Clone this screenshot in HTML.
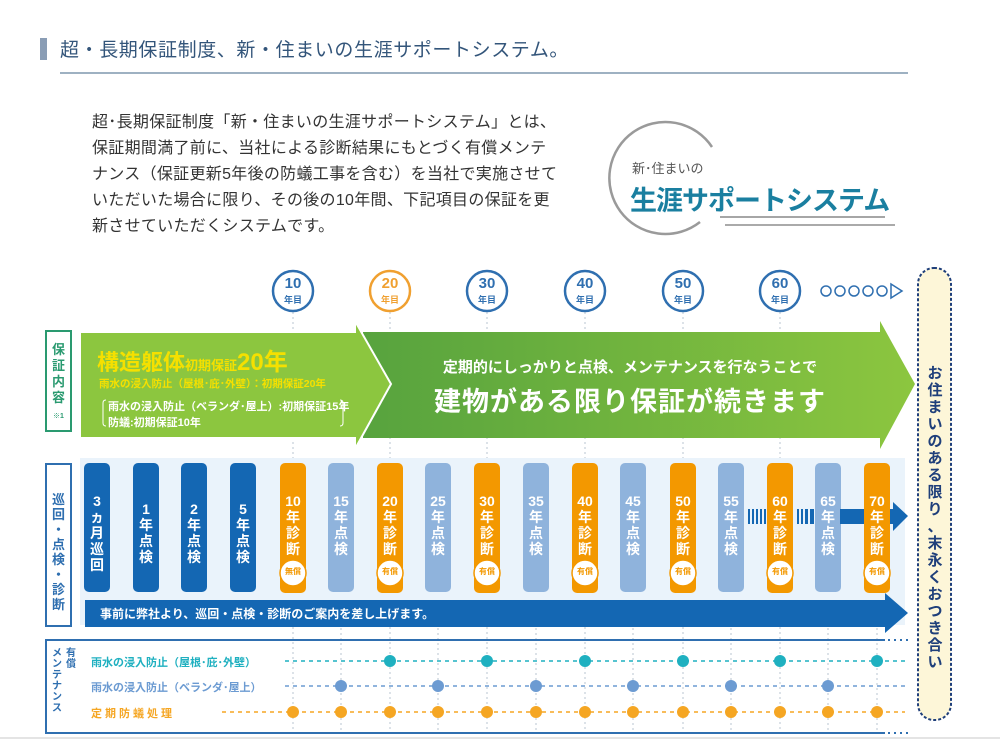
<!DOCTYPE html>
<html><head><meta charset="utf-8"><style>
body{margin:0;background:#fff;}
#c{position:relative;width:1000px;height:742px;overflow:hidden;font-family:"Liberation Sans","Noto Sans CJK JP",sans-serif;}
.a{position:absolute;}
.p{position:absolute;width:26px;text-align:center;color:#fff;font-weight:bold;font-size:14px;line-height:16px;top:493px;}
.v{position:absolute;text-align:center;font-weight:bold;}
</style></head><body><div id="c">
<svg class="a" style="left:0;top:0" width="1000" height="742">
<defs>
<linearGradient id="g2" x1="0" x2="1"><stop offset="0" stop-color="#57a33e"/><stop offset="1" stop-color="#8cc63f"/></linearGradient>
</defs>
<rect x="40" y="38" width="7" height="22" fill="#8a9db5"/>
<line x1="60" y1="73" x2="908" y2="73" stroke="#7f97ad" stroke-width="1.5"/>
<path d="M712 147 A56 56 0 1 0 700 222" fill="none" stroke="#9a9a9a" stroke-width="2.5"/>
<line x1="720" y1="217" x2="885" y2="217" stroke="#888" stroke-width="1.5"/>
<line x1="725" y1="225" x2="895" y2="225" stroke="#aaa" stroke-width="2"/>
<rect x="918" y="268" width="33" height="452" rx="16" fill="#fdf6d8" stroke="#1f3f7a" stroke-width="2" stroke-dasharray="3,2"/>
<g stroke="#b8c4d0" stroke-width="1" stroke-dasharray="2,3">
<line x1="293" y1="312" x2="293" y2="730"/><line x1="341" y1="458" x2="341" y2="730"/>
<line x1="390" y1="312" x2="390" y2="730"/><line x1="438" y1="458" x2="438" y2="730"/>
<line x1="487" y1="312" x2="487" y2="730"/><line x1="536" y1="458" x2="536" y2="730"/>
<line x1="585" y1="312" x2="585" y2="730"/><line x1="633" y1="458" x2="633" y2="730"/>
<line x1="683" y1="312" x2="683" y2="730"/><line x1="731" y1="458" x2="731" y2="730"/>
<line x1="780" y1="312" x2="780" y2="730"/><line x1="828" y1="458" x2="828" y2="730"/>
<line x1="877" y1="458" x2="877" y2="730"/>
</g>
<g fill="#fff" stroke-width="2.5">
<circle cx="293" cy="291" r="20" stroke="#2f6fb0"/>
<circle cx="390" cy="291" r="20" stroke="#f0a030"/>
<circle cx="487" cy="291" r="20" stroke="#2f6fb0"/>
<circle cx="585" cy="291" r="20" stroke="#2f6fb0"/>
<circle cx="683" cy="291" r="20" stroke="#2f6fb0"/>
<circle cx="780" cy="291" r="20" stroke="#2f6fb0"/>
</g>
<g fill="none" stroke="#2f6fb0" stroke-width="1.5">
<circle cx="826" cy="291" r="5"/><circle cx="840" cy="291" r="5"/><circle cx="854" cy="291" r="5"/><circle cx="868" cy="291" r="5"/><circle cx="882" cy="291" r="5"/>
<path d="M891 284 L902 291 L891 298 Z"/>
</g>
<rect x="46" y="331" width="25" height="100" fill="#fff" stroke="#2a9a70" stroke-width="2"/>
<path d="M363 332 H880 V321 L915 384 L880 449 V438 H363 Z" fill="url(#g2)"/>
<path d="M80 332 H355 V321 L391 384 L355 449 V438 H80 Z" fill="#8cc63f" stroke="#fff" stroke-width="2"/>
<path d="M106 400 q-3 0 -3 3 v20 q0 3 3 3 M340 400 q3 0 3 3 v20 q0 3 -3 3" fill="none" stroke="#fff" stroke-width="1"/>
<rect x="80" y="458" width="825" height="167" fill="#eaf3fb"/>
<rect x="46" y="464" width="25" height="162" fill="#fff" stroke="#2f6fb0" stroke-width="2"/>
<g>
<rect x="84" y="463" width="26" height="129" rx="5" fill="#1467b3"/>
<rect x="133" y="463" width="26" height="129" rx="5" fill="#1467b3"/>
<rect x="181" y="463" width="26" height="129" rx="5" fill="#1467b3"/>
<rect x="230" y="463" width="26" height="129" rx="5" fill="#1467b3"/>
<rect x="328" y="463" width="26" height="129" rx="5" fill="#8fb3dc"/>
<rect x="425" y="463" width="26" height="129" rx="5" fill="#8fb3dc"/>
<rect x="523" y="463" width="26" height="129" rx="5" fill="#8fb3dc"/>
<rect x="620" y="463" width="26" height="129" rx="5" fill="#8fb3dc"/>
<rect x="718" y="463" width="26" height="129" rx="5" fill="#8fb3dc"/>
<rect x="815" y="463" width="26" height="129" rx="5" fill="#8fb3dc"/>
</g>
<g fill="#1467b3">
<rect x="748" y="509" width="2" height="15"/><rect x="752" y="509" width="2" height="15"/><rect x="756" y="509" width="2" height="15"/><rect x="760" y="509" width="2" height="15"/><rect x="764" y="509" width="2" height="15"/>
<rect x="797" y="509" width="2" height="15"/><rect x="801" y="509" width="2" height="15"/><rect x="805" y="509" width="3" height="15"/><rect x="810" y="509" width="4" height="15"/>
<rect x="840" y="509" width="55" height="15"/>
<path d="M893 502 L908 516 L893 531 Z"/>
</g>
<g fill="#f39800">
<rect x="280" y="463" width="26" height="130" rx="5"/>
<rect x="377" y="463" width="26" height="130" rx="5"/>
<rect x="474" y="463" width="26" height="130" rx="5"/>
<rect x="572" y="463" width="26" height="130" rx="5"/>
<rect x="670" y="463" width="26" height="130" rx="5"/>
<rect x="767" y="463" width="26" height="130" rx="5"/>
<rect x="864" y="463" width="26" height="130" rx="5"/>
</g>
<g fill="#fff" stroke="#f39800" stroke-width="1.5">
<circle cx="293" cy="573" r="13"/><circle cx="390" cy="573" r="13"/><circle cx="487" cy="573" r="13"/><circle cx="585" cy="573" r="13"/><circle cx="683" cy="573" r="13"/><circle cx="780" cy="573" r="13"/><circle cx="877" cy="573" r="13"/>
</g>
<path d="M85 600 H885 V593 L908 613 L885 633 V627 H85 Z" fill="#1467b3"/>
<path d="M885 640 H46 V733 H885" fill="none" stroke="#2f6fb0" stroke-width="2"/>
<line x1="888" y1="640" x2="912" y2="640" stroke="#2f6fb0" stroke-width="2" stroke-dasharray="2,4"/>
<line x1="888" y1="733" x2="912" y2="733" stroke="#2f6fb0" stroke-width="2" stroke-dasharray="2,4"/>
<g stroke-width="1.5" stroke-dasharray="4,4">
<line x1="285" y1="661" x2="905" y2="661" stroke="#1fb0c0"/>
<line x1="285" y1="686" x2="905" y2="686" stroke="#6c9bd2"/>
<line x1="222" y1="712" x2="905" y2="712" stroke="#f5a623"/>
</g>
<g fill="#1fb0c0"><circle cx="390" cy="661" r="6"/><circle cx="487" cy="661" r="6"/><circle cx="585" cy="661" r="6"/><circle cx="683" cy="661" r="6"/><circle cx="780" cy="661" r="6"/><circle cx="877" cy="661" r="6"/></g>
<g fill="#6c9bd2"><circle cx="341" cy="686" r="6"/><circle cx="438" cy="686" r="6"/><circle cx="536" cy="686" r="6"/><circle cx="633" cy="686" r="6"/><circle cx="731" cy="686" r="6"/><circle cx="828" cy="686" r="6"/></g>
<g fill="#f5a623"><circle cx="293" cy="712" r="6"/><circle cx="341" cy="712" r="6"/><circle cx="390" cy="712" r="6"/><circle cx="438" cy="712" r="6"/><circle cx="487" cy="712" r="6"/><circle cx="536" cy="712" r="6"/><circle cx="585" cy="712" r="6"/><circle cx="633" cy="712" r="6"/><circle cx="683" cy="712" r="6"/><circle cx="731" cy="712" r="6"/><circle cx="780" cy="712" r="6"/><circle cx="828" cy="712" r="6"/><circle cx="877" cy="712" r="6"/></g>
<line x1="0" y1="738" x2="1000" y2="738" stroke="#e4e4e4" stroke-width="2"/>
</svg>

<div class="a" style="left:60px;top:35px;font-size:19px;letter-spacing:0.6px;color:#33557a;white-space:nowrap;">超・長期保証制度、新・住まいの生涯サポートシステム。</div>
<div class="a" style="left:92px;top:110px;font-size:16px;letter-spacing:0.3px;line-height:26px;color:#333;width:520px;white-space:nowrap;">超･長期保証制度「新・住まいの生涯サポートシステム」とは、<br>保証期間満了前に、当社による診断結果にもとづく有償メンテ<br>ナンス（保証更新5年後の防蟻工事を含む）を当社で実施させて<br>いただいた場合に限り、その後の10年間、下記項目の保証を更<br>新させていただくシステムです。</div>
<div class="a" style="left:632px;top:158px;font-size:13px;color:#555;">新･住まいの</div>
<div class="a" style="left:630px;top:179px;font-size:27px;color:#1a7fa0;letter-spacing:-1px;font-weight:bold;white-space:nowrap;">生涯サポートシステム</div>

<div class="v" style="left:273px;top:276px;width:40px;color:#2f6fb0;font-size:15px;line-height:15px;">10<br><span style="font-size:9px;line-height:10px">年目</span></div>
<div class="v" style="left:370px;top:276px;width:40px;color:#f0a030;font-size:15px;line-height:15px;">20<br><span style="font-size:9px;line-height:10px">年目</span></div>
<div class="v" style="left:467px;top:276px;width:40px;color:#2f6fb0;font-size:15px;line-height:15px;">30<br><span style="font-size:9px;line-height:10px">年目</span></div>
<div class="v" style="left:565px;top:276px;width:40px;color:#2f6fb0;font-size:15px;line-height:15px;">40<br><span style="font-size:9px;line-height:10px">年目</span></div>
<div class="v" style="left:663px;top:276px;width:40px;color:#2f6fb0;font-size:15px;line-height:15px;">50<br><span style="font-size:9px;line-height:10px">年目</span></div>
<div class="v" style="left:760px;top:276px;width:40px;color:#2f6fb0;font-size:15px;line-height:15px;">60<br><span style="font-size:9px;line-height:10px">年目</span></div>

<div class="v" style="left:46px;top:342px;width:25px;color:#2a9a70;font-size:13px;line-height:16px;">保<br>証<br>内<br>容<br><span style="font-size:7px">※1</span></div>
<div class="a" style="left:97px;top:342px;color:#f5e000;font-weight:bold;font-size:22px;white-space:nowrap;">構造躯体<span style="font-size:13px">初期保証</span><span style="font-size:24px">20年</span></div>
<div class="a" style="left:99px;top:376px;color:#f5e000;font-weight:bold;font-size:10.5px;white-space:nowrap;">雨水の浸入防止（屋根･庇･外壁）：初期保証20年</div>
<div class="a" style="left:108px;top:399px;color:#fff;font-weight:bold;font-size:11px;line-height:16px;white-space:nowrap;">雨水の浸入防止（ベランダ･屋上）:初期保証15年<br>防蟻:初期保証10年</div>
<div class="v" style="left:400px;top:356px;width:460px;color:#fff;font-size:15px;">定期的にしっかりと点検、メンテナンスを行なうことで</div>
<div class="v" style="left:400px;top:380px;width:460px;color:#fff;font-size:27px;letter-spacing:1px;">建物がある限り保証が続きます</div>
<div class="v" style="left:920px;top:365px;width:30px;color:#1f3f7a;font-size:15px;line-height:17px;">お<br>住<br>ま<br>い<br>の<br>あ<br>る<br>限<br>り<br>、<br>末<br>永<br>く<br>お<br>つ<br>き<br>合<br>い</div>

<div class="v" style="left:46px;top:492px;width:25px;color:#2f6fb0;font-size:13px;line-height:15px;">巡<br>回<br>・<br>点<br>検<br>・<br>診<br>断</div>
<div class="p" style="left:84px">3<br>ヵ<br>月<br>巡<br>回</div>
<div class="p" style="left:133px;top:501px">1<br>年<br>点<br>検</div>
<div class="p" style="left:181px;top:501px">2<br>年<br>点<br>検</div>
<div class="p" style="left:230px;top:501px">5<br>年<br>点<br>検</div>
<div class="p" style="left:280px">10<br>年<br>診<br>断</div>
<div class="p" style="left:328px">15<br>年<br>点<br>検</div>
<div class="p" style="left:377px">20<br>年<br>診<br>断</div>
<div class="p" style="left:425px">25<br>年<br>点<br>検</div>
<div class="p" style="left:474px">30<br>年<br>診<br>断</div>
<div class="p" style="left:523px">35<br>年<br>点<br>検</div>
<div class="p" style="left:572px">40<br>年<br>診<br>断</div>
<div class="p" style="left:620px">45<br>年<br>点<br>検</div>
<div class="p" style="left:670px">50<br>年<br>診<br>断</div>
<div class="p" style="left:718px">55<br>年<br>点<br>検</div>
<div class="p" style="left:767px">60<br>年<br>診<br>断</div>
<div class="p" style="left:815px">65<br>年<br>点<br>検</div>
<div class="p" style="left:864px">70<br>年<br>診<br>断</div>
<div class="v" style="left:280px;top:566px;width:26px;color:#f39800;font-size:8px;">無償</div>
<div class="v" style="left:377px;top:566px;width:26px;color:#f39800;font-size:8px;">有償</div>
<div class="v" style="left:474px;top:566px;width:26px;color:#f39800;font-size:8px;">有償</div>
<div class="v" style="left:572px;top:566px;width:26px;color:#f39800;font-size:8px;">有償</div>
<div class="v" style="left:670px;top:566px;width:26px;color:#f39800;font-size:8px;">有償</div>
<div class="v" style="left:767px;top:566px;width:26px;color:#f39800;font-size:8px;">有償</div>
<div class="v" style="left:864px;top:566px;width:26px;color:#f39800;font-size:8px;">有償</div>
<div class="a" style="left:100px;top:605px;color:#fff;font-weight:bold;font-size:12px;">事前に弊社より、巡回・点検・診断のご案内を差し上げます。</div>

<div class="v" style="left:64px;top:648px;width:14px;color:#2f6fb0;font-size:10px;line-height:11px;">有<br>償</div>
<div class="v" style="left:50px;top:648px;width:14px;color:#2f6fb0;font-size:10px;line-height:11px;">メ<br>ン<br>テ<br>ナ<br>ン<br>ス</div>
<div class="a" style="left:91px;top:654px;color:#1fb0c0;font-weight:bold;font-size:11px;">雨水の浸入防止（屋根･庇･外壁）</div>
<div class="a" style="left:91px;top:679px;color:#6c9bd2;font-weight:bold;font-size:11px;">雨水の浸入防止（ベランダ･屋上）</div>
<div class="a" style="left:91px;top:705px;color:#f5a623;font-weight:bold;font-size:11px;letter-spacing:3px;">定期防蟻処理</div>
</div></body></html>
